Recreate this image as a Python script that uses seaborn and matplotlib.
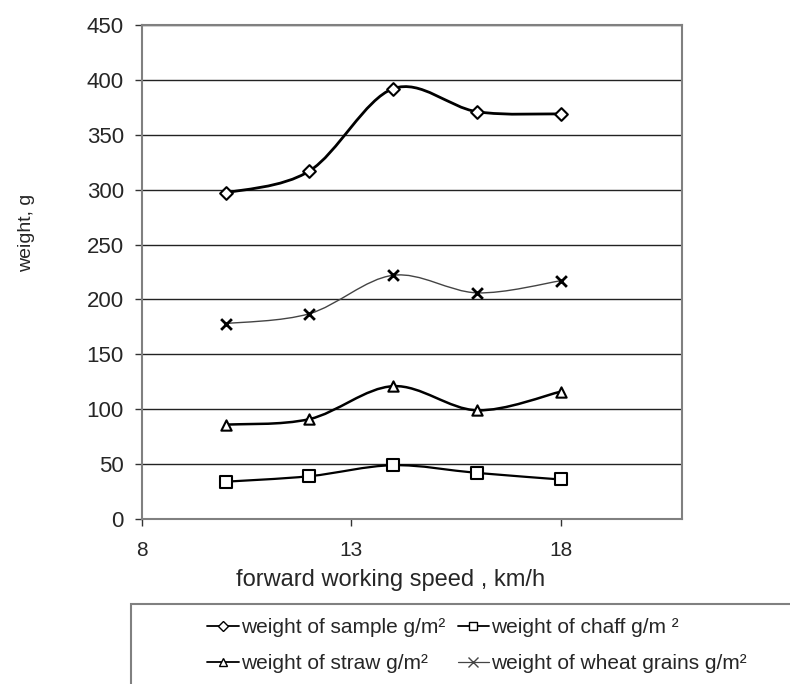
import numpy as np
import seaborn as sns
from matplotlib import pyplot as plt
from matplotlib.path import Path
from matplotlib.patches import PathPatch, Rectangle
from matplotlib.lines import Line2D

# data
speed = [10, 12, 14, 16, 18]
sample = [297, 317, 392, 371, 369]
chaff = [34, 39, 49, 42, 36]
straw = [86, 91, 121, 99, 116]
wheat = [178, 187, 222, 206, 217]

labels = ['weight of sample g/m²', 'weight of chaff g/m ²',
          'weight of straw g/m²', 'weight of wheat grains g/m²']

sns.set_style('white')
plt.rcParams['font.family'] = ['Liberation Sans', 'DejaVu Sans']


def smooth_path(xs, ys):
    # excel style smoothed line: bezier segments through the points
    pts = np.column_stack([xs, ys]).astype(float)
    ext = np.vstack([pts[0], pts, pts[-1]])
    verts = [pts[0]]
    codes = [Path.MOVETO]
    for i in range(len(pts) - 1):
        p0, p1, p2, p3 = ext[i], ext[i + 1], ext[i + 2], ext[i + 3]
        c1 = p1 + (p2 - p0) / 6
        c2 = p2 - (p3 - p1) / 6
        verts += [c1, c2, p2]
        codes += [Path.CURVE4] * 3
    return Path(verts, codes)


fig = plt.figure(figsize=(7.9, 6.84), dpi=100)
ax = fig.add_axes([0.1797, 0.2412, 0.6836, 0.7223])

series = [
    (sample, 'D', 42, 2.0, 'black'),
    (chaff, 's', 70, 1.6, 'black'),
    (straw, '^', 55, 1.8, 'black'),
    (wheat, 'x', 60, 1.0, '#444444'),
]

for vals, mk, size, lw, col in series:
    ax.add_patch(PathPatch(smooth_path(speed, vals), facecolor='none',
                           edgecolor=col, lw=lw, zorder=2))
    if mk == 'x':
        sns.scatterplot(x=speed, y=vals, marker='x', s=size, color='black',
                        linewidth=2, ax=ax, zorder=3)
    else:
        sns.scatterplot(x=speed, y=vals, marker=mk, s=size, facecolor='white',
                        edgecolor='black', linewidth=1.5, ax=ax, zorder=3)

ax.set_xlim(8, 20.9)
ax.set_ylim(0, 450)
ax.set_xticks([8, 13, 18])
ax.set_yticks(range(0, 451, 50))
ax.yaxis.grid(True, color='#222222', lw=1)
ax.set_axisbelow(True)
for s in ax.spines.values():
    s.set_color('#808080')
    s.set_linewidth(1.5)
ax.tick_params(axis='both', direction='out', length=5, width=1, color='#333333',
               labelsize=16, left=True, bottom=True)
ax.tick_params(axis='y', pad=8)
ax.tick_params(axis='x', pad=11, labelsize=15)

ax.set_xlabel('forward working speed , km/h', fontsize=17)
ax.set_ylabel('weight, g', fontsize=14)
ax.xaxis.set_label_coords(0.461, -0.123)
ax.yaxis.set_label_coords(-0.213, 0.579)
ax.xaxis.label.set_verticalalignment('center')
ax.yaxis.label.set_verticalalignment('center')

# legend box below the chart
fig.patches.append(Rectangle((131 / 790, -0.1), 1.0, 1 - 604 / 684 + 0.1,
                             transform=fig.transFigure, fill=False,
                             edgecolor='#808080', lw=1.5))

handles = [
    Line2D([], [], color='black', lw=1.3, marker='D', markersize=5,
           markerfacecolor='white', markeredgecolor='black', markeredgewidth=1),
    Line2D([], [], color='black', lw=1.3, marker='^', markersize=6,
           markerfacecolor='white', markeredgecolor='black', markeredgewidth=1),
    Line2D([], [], color='black', lw=1.3, marker='s', markersize=6,
           markerfacecolor='white', markeredgecolor='black', markeredgewidth=1),
    Line2D([], [], color='#444444', lw=0.9, marker='x', markersize=7,
           markeredgecolor='#444444', markeredgewidth=1),
]
fig.legend(handles, [labels[0], labels[2], labels[1], labels[3]], ncol=2,
           loc='upper left', bbox_to_anchor=(197 / 790, 1 - 608 / 684),
           frameon=False, fontsize=15, borderpad=0, handlelength=1.5,
           handletextpad=0.1, labelspacing=0.8, columnspacing=0.6)

fig.savefig('out.png', dpi=100)
